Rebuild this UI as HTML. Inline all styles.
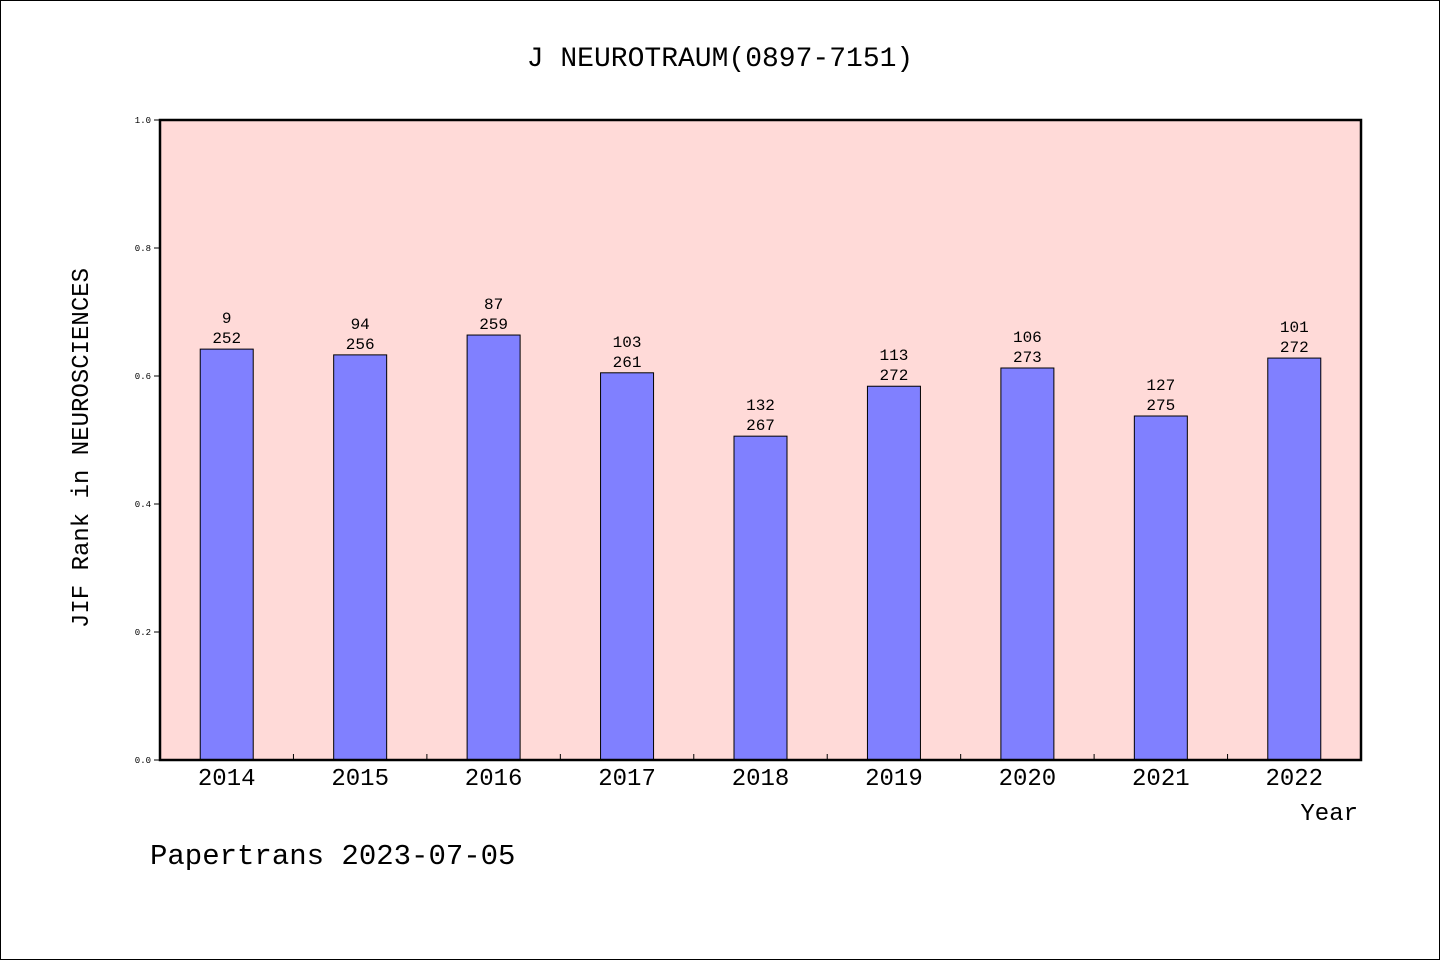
<!DOCTYPE html>
<html><head><meta charset="utf-8"><style>
body{margin:0;background:#fff}
svg text{font-family:"WenQuanYi Zen Hei","Liberation Mono",monospace;fill:#000}
</style></head><body>
<svg width="1440" height="960">
<rect x="0.5" y="0.5" width="1439" height="959" fill="#fff" stroke="#000"/>
<text x="720" y="66" font-size="28" text-anchor="middle">J NEUROTRAUM(0897-7151)</text>
<rect x="160" y="120" width="1201" height="640" fill="#ffdad8"/>
<g id="bars"></g>
<rect x="160" y="120" width="1201" height="640" fill="none" stroke="#000" stroke-width="2.5"/>
<g id="axes"></g>
<text x="1358" y="820" font-size="24" text-anchor="end">Year</text>
<text transform="translate(88,448) rotate(-90)" font-size="24" text-anchor="middle">JIF Rank in NEUROSCIENCES</text>
<text x="150" y="864" font-size="29">Papertrans 2023-07-05</text>
</svg>
<script>
const years=["2014","2015","2016","2017","2018","2019","2020","2021","2022"];
const values=[0.642,0.633,0.664,0.605,0.506,0.584,0.6125,0.5375,0.628];
const ranks=["9","94","87","103","132","113","106","127","101"];
const totals=["252","256","259","261","267","272","273","275","272"];
const yTicks=[0,0.2,0.4,0.6,0.8,1.0];
const ns="http://www.w3.org/2000/svg";
const X0=160,W=1201,Y0=760,H=640;
const step=W/years.length;
const y=v=>Y0-v*H;
const xc=i=>X0+step*(i+0.5);
const bars=document.getElementById('bars'),axes=document.getElementById('axes');
function mk(t,a,p){const e=document.createElementNS(ns,t);for(const k in a)e.setAttribute(k,a[k]);p.appendChild(e);return e;}
years.forEach((yr,i)=>{
 const r=mk('rect',{x:xc(i)-26.5,y:y(values[i]),width:53,height:values[i]*H,fill:'#8080ff',stroke:'#000','stroke-width':1},bars);
 
 
 const t1=mk('text',{x:xc(i),y:y(values[i])-26,'font-size':16,'text-anchor':'middle'},bars);t1.textContent=ranks[i];
 
 
 const t2=mk('text',{x:xc(i),y:y(values[i])-6,'font-size':16,'text-anchor':'middle'},bars);t2.textContent=totals[i];
 
 
 const xl=mk('text',{x:xc(i),y:785,'font-size':24,'text-anchor':'middle'},axes);xl.textContent=yr;
 
 
 if(i>0){const tk=mk('line',{x1:X0+step*i,x2:X0+step*i,y1:754,y2:760,stroke:'#000'},axes);
 
 }
});
yTicks.forEach(v=>{
 const tk=mk('line',{x1:154,x2:160,y1:y(v),y2:y(v),stroke:'#000'},axes);
 
 
 const t=mk('text',{x:151,y:y(v)+3,'font-size':9,'text-anchor':'end'},axes);t.textContent=v.toFixed(1);
 
 
});
</script>
</body></html>
